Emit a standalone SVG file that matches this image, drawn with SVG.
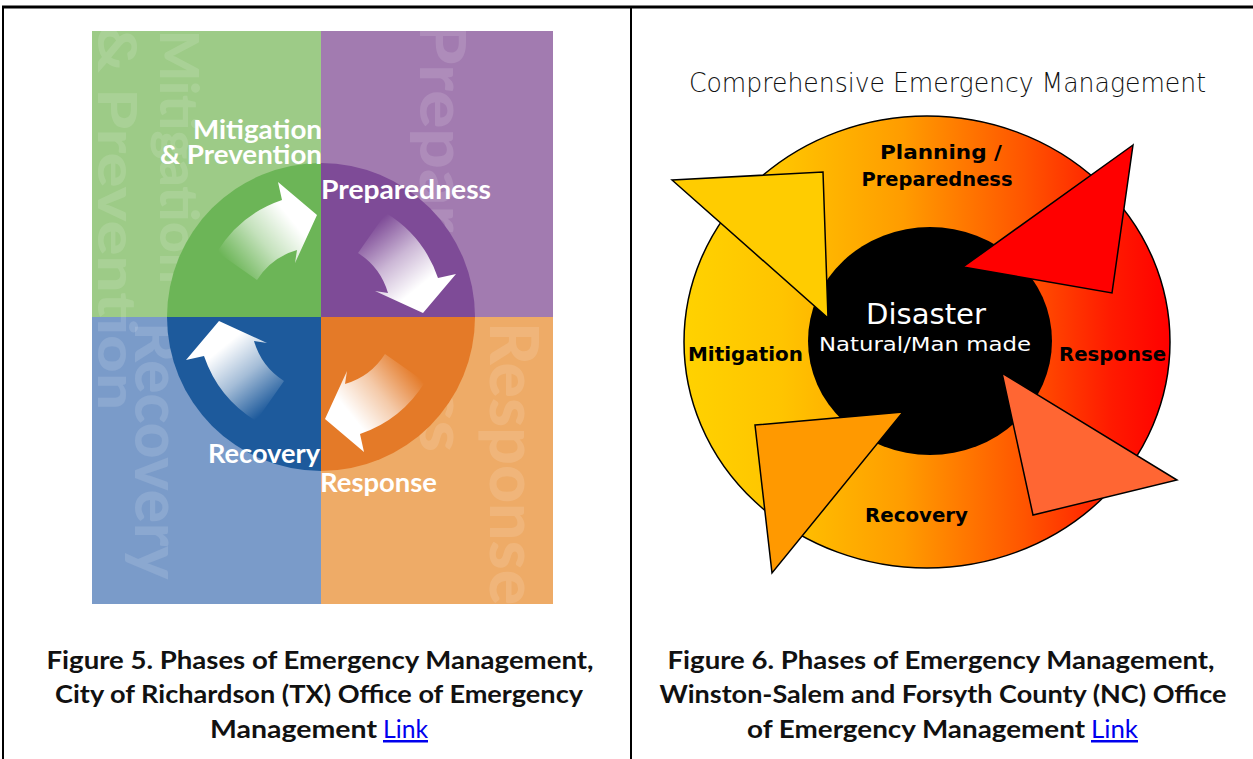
<svg xmlns="http://www.w3.org/2000/svg" width="1253" height="759" viewBox="0 0 1253 759">
<defs>
<style>
.bgtxt{font-family:"Lato","Open Sans",sans-serif;font-weight:900;fill:#ffffff;fill-opacity:0.13}
.lbl{font-family:"Lato","Open Sans",sans-serif;font-weight:700;fill:#ffffff;font-size:27px}
.cap{font-family:"Lato","Noto Sans",sans-serif;font-weight:700;fill:#111111;font-size:25px;text-anchor:middle}
.link{font-family:"Lato","Noto Sans",sans-serif;font-weight:400;fill:#0000ee;text-decoration:underline}
.rl{font-family:"DejaVu Sans",sans-serif;font-weight:700;fill:#000000;font-size:19px}
.tri{stroke:#000000;stroke-width:1.5;stroke-linejoin:miter}
</style>
<clipPath id="imgclip"><rect x="92" y="31" width="461" height="573"/></clipPath>
<linearGradient id="arrowGrad" gradientUnits="userSpaceOnUse" x1="235" y1="272" x2="305" y2="215">
<stop offset="0" stop-color="#ffffff" stop-opacity="0"/>
<stop offset="0.45" stop-color="#ffffff" stop-opacity="0.6"/>
<stop offset="0.85" stop-color="#ffffff" stop-opacity="1"/>
</linearGradient>
<linearGradient id="ringGrad" gradientUnits="userSpaceOnUse" x1="685" y1="0" x2="1170" y2="0">
<stop offset="0" stop-color="#ffd200"/>
<stop offset="0.2" stop-color="#ffc400"/>
<stop offset="0.45" stop-color="#ff9c00"/>
<stop offset="0.7" stop-color="#ff5500"/>
<stop offset="0.88" stop-color="#ff1a00"/>
<stop offset="1" stop-color="#ff0000"/>
</linearGradient>
<path id="arrowShape" d="M217,252 A123,123 0 0 1 282,200 L278,182 L317,215 L295,263 L297,250 A71,71 0 0 0 257,280 Z"/>
</defs>

<rect x="0" y="0" width="1253" height="759" fill="#ffffff"/>

<!-- table lines -->
<g id="table" stroke="#000000" fill="none">
<line x1="2" y1="7" x2="1253" y2="7" stroke-width="3"/>
<line x1="3" y1="6" x2="3" y2="759" stroke-width="2"/>
<line x1="631" y1="6" x2="631" y2="759" stroke-width="2"/>
</g>

<!-- Figure 5 -->
<g id="figure5">
<g clip-path="url(#imgclip)">
<rect x="92" y="31" width="229" height="286" fill="#9dcb87"/>
<rect x="321" y="31" width="232" height="286" fill="#a27bb0"/>
<rect x="92" y="317" width="229" height="287" fill="#7a9bc9"/>
<rect x="321" y="317" width="232" height="287" fill="#eeab67"/>
<text class="bgtxt" font-size="54" transform="translate(160,30) rotate(90)">Mitigation</text>
<text class="bgtxt" font-size="54" transform="translate(98,25) rotate(90)" textLength="385" lengthAdjust="spacingAndGlyphs">&amp; Prevention</text>
<text class="bgtxt" font-size="62" transform="translate(420,20) rotate(90)" textLength="432" lengthAdjust="spacingAndGlyphs">Preparedness</text>
<text class="bgtxt" font-size="62" transform="translate(135,322) rotate(90)">Recovery</text>
<text class="bgtxt" font-size="66" transform="translate(490,322) rotate(90)">Response</text>
</g>
<g id="wheel">
<path d="M321,317 L167,317 A154,154 0 0 1 321,163 Z" fill="#6cb557"/>
<path d="M321,317 L321,163 A154,154 0 0 1 475,317 Z" fill="#7e4b97"/>
<path d="M321,317 L475,317 A154,154 0 0 1 321,471 Z" fill="#e47a28"/>
<path d="M321,317 L321,471 A154,154 0 0 1 167,317 Z" fill="#1d5a9c"/>
<use href="#arrowShape" fill="url(#arrowGrad)"/>
<use href="#arrowShape" fill="url(#arrowGrad)" transform="rotate(90 321 317)"/>
<use href="#arrowShape" fill="url(#arrowGrad)" transform="rotate(180 321 317)"/>
<use href="#arrowShape" fill="url(#arrowGrad)" transform="rotate(270 321 317)"/>
</g>
<g id="labels5">
<text class="lbl" x="322" y="139" text-anchor="end" textLength="129" lengthAdjust="spacingAndGlyphs">Mitigation</text>
<text class="lbl" x="322" y="164" text-anchor="end" textLength="162" lengthAdjust="spacingAndGlyphs">&amp; Prevention</text>
<text class="lbl" x="321" y="199" textLength="170" lengthAdjust="spacingAndGlyphs">Preparedness</text>
<text class="lbl" x="320" y="463" text-anchor="end" textLength="112" lengthAdjust="spacingAndGlyphs">Recovery</text>
<text class="lbl" x="320" y="492" textLength="117" lengthAdjust="spacingAndGlyphs">Response</text>
</g>
</g>

<!-- Figure 6 -->
<g id="figure6">
<text x="689" y="92" font-family="DejaVu Sans, sans-serif" font-size="26" font-weight="300" fill="#111111" textLength="517" lengthAdjust="spacingAndGlyphs">Comprehensive Emergency Management</text>
<g id="ring">
<ellipse cx="927" cy="342" rx="243" ry="226" fill="url(#ringGrad)" stroke="#000000" stroke-width="1.5"/>
<ellipse cx="930" cy="341" rx="122" ry="114" fill="#000000"/>
</g>
<g id="arrows6">
<polygon class="tri" points="672,180 823,172 828,318" fill="#ffcc00"/>
<polygon class="tri" points="1133,145 963,267 1112,293" fill="#ff0000"/>
<polygon class="tri" points="1002,373 1177,480 1033,515" fill="#ff6633"/>
<polygon class="tri" points="755,425 903,412 772,573" fill="#ff9900"/>
</g>
<g id="labels6">
<text class="rl" x="941" y="159" text-anchor="middle" textLength="122" lengthAdjust="spacingAndGlyphs">Planning /</text>
<text class="rl" x="937" y="186" text-anchor="middle" textLength="151" lengthAdjust="spacingAndGlyphs">Preparedness</text>
<text class="rl" x="688" y="361" textLength="115" lengthAdjust="spacingAndGlyphs">Mitigation</text>
<text class="rl" x="1059" y="361" textLength="107" lengthAdjust="spacingAndGlyphs">Response</text>
<text class="rl" x="865" y="522" textLength="103" lengthAdjust="spacingAndGlyphs">Recovery</text>
<text x="926" y="324" text-anchor="middle" font-family="DejaVu Sans, sans-serif" font-size="28" fill="#ffffff" textLength="120" lengthAdjust="spacingAndGlyphs">Disaster</text>
<text x="925" y="351" text-anchor="middle" font-family="DejaVu Sans, sans-serif" font-size="20" fill="#ffffff" textLength="212" lengthAdjust="spacingAndGlyphs">Natural/Man made</text>
</g>
</g>

<!-- captions -->
<g id="caption5">
<text class="cap" x="320" y="669" textLength="547" lengthAdjust="spacingAndGlyphs">Figure 5. Phases of Emergency Management,</text>
<text class="cap" x="319" y="703" textLength="528" lengthAdjust="spacingAndGlyphs">City of Richardson (TX) Office of Emergency</text>
<text class="cap" x="210" y="738" style="text-anchor:start" textLength="167" lengthAdjust="spacingAndGlyphs">Management</text>
<text class="link" x="383" y="738" font-size="25" textLength="45" lengthAdjust="spacingAndGlyphs">Link</text>
</g>
<g id="caption6">
<text class="cap" x="941" y="669" textLength="547" lengthAdjust="spacingAndGlyphs">Figure 6. Phases of Emergency Management,</text>
<text class="cap" x="943" y="703" textLength="567" lengthAdjust="spacingAndGlyphs">Winston-Salem and Forsyth County (NC) Office</text>
<text class="cap" x="747" y="738" style="text-anchor:start" textLength="338" lengthAdjust="spacingAndGlyphs">of Emergency Management</text>
<text class="link" x="1091" y="738" font-size="25" textLength="47" lengthAdjust="spacingAndGlyphs">Link</text>
</g>
</svg>
